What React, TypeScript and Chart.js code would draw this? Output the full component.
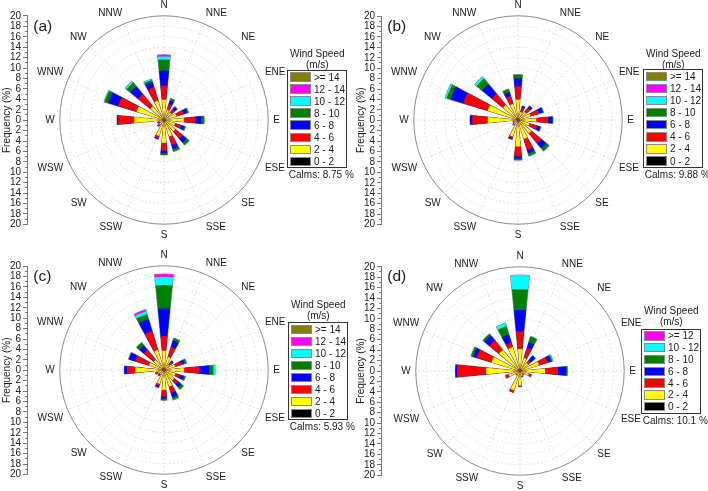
import React, { useEffect, useRef } from 'react';
import { Chart, registerables } from 'chart.js';

Chart.register(...registerables);

const FONT = "'Liberation Sans', Arial, Helvetica, sans-serif";

// 16 compass directions, clockwise from North
const DIRECTIONS = ['N', 'NNE', 'NE', 'ENE', 'E', 'ESE', 'SE', 'SSE', 'S', 'SSW', 'SW', 'WSW', 'W', 'WNW', 'NW', 'NNW'];

const SPEED_BINS_8 = ['0 - 2', '2 - 4', '4 - 6', '6 - 8', '8 - 10', '10 - 12', '12 - 14', '>= 14'];
const SPEED_BINS_7 = ['0 - 2', '2 - 4', '4 - 6', '6 - 8', '8 - 10', '10 - 12', '>= 12'];
const BIN_COLORS_8 = ['#000000', '#ffff00', '#ff0000', '#0000ff', '#008000', '#00ffff', '#ff00ff', '#808000'];
const BIN_COLORS_7 = ['#000000', '#ffff00', '#ff0000', '#0000ff', '#008000', '#00ffff', '#ff00ff'];

const RADIAL_MAX = 20;
const RADIAL_STEP = 2;

// ---- Panel (a): frequency (%) per speed class, N..NNW ----
const A_0_2 = [0.5, 0.4, 0.4, 0.4, 0.5, 0.4, 0.4, 0.4, 0.5, 0.4, 0.3, 0.3, 0.5, 0.5, 0.5, 0.4];
const A_2_4 = [3.4, 1.6, 1.4, 2.1, 3.3, 1.8, 2.4, 2.9, 3.9, 2.8, 0.9, 0.6, 5.2, 5.0, 2.9, 3.5];
const A_4_6 = [2.7, 1.2, 0.8, 1.4, 2.2, 1.2, 1.8, 1.7, 1.5, 0.5, 0.4, 0.3, 3.1, 3.7, 3.0, 2.7];
const A_6_8 = [2.9, 0.7, 0.6, 0.7, 1.2, 0.7, 1.0, 0.8, 0.5, 0.15, 0, 0.1, 0.2, 2.0, 2.0, 1.0];
const A_8_10 = [2.1, 0.4, 0.1, 0.3, 0.5, 0.2, 0.6, 0.5, 0.3, 0, 0, 0, 0, 0.7, 0.9, 0.4];
const A_10_12 = [0.6, 0, 0, 0, 0, 0, 0, 0, 0, 0, 0, 0, 0, 0.1, 0.3, 0.2];
const A_12_14 = [0.3, 0, 0, 0, 0, 0, 0, 0, 0, 0, 0, 0, 0, 0, 0, 0];
const A_14 = [0, 0, 0, 0, 0, 0, 0, 0, 0, 0, 0, 0, 0, 0, 0, 0];

// ---- Panel (b) ----
const B_0_2 = [0.5, 0.4, 0.4, 0.4, 0.5, 0.4, 0.4, 0.4, 0.5, 0.4, 0.3, 0.3, 0.5, 0.5, 0.5, 0.4];
const B_2_4 = [3.4, 1.2, 1.6, 2.1, 3.0, 1.9, 2.9, 3.4, 4.6, 2.9, 0.7, 0.4, 5.3, 5.6, 3.2, 2.8];
const B_4_6 = [2.6, 0.9, 1.0, 1.7, 2.3, 1.5, 2.5, 2.2, 1.9, 0.4, 0.3, 0.3, 3.0, 4.9, 2.8, 1.6];
const B_6_8 = [1.5, 0.3, 0.5, 0.8, 0.8, 0.7, 1.2, 0.7, 0.4, 0.2, 0, 0, 0.4, 2.5, 2.4, 0.8];
const B_8_10 = [0.7, 0, 0, 0.1, 0.1, 0.1, 0.7, 0.5, 0.3, 0, 0, 0, 0, 0.8, 1.4, 0.6];
const B_10_12 = [0, 0, 0, 0, 0, 0, 0, 0, 0, 0, 0, 0, 0, 0.3, 0.4, 0];
const B_12_14 = [0, 0, 0, 0, 0, 0, 0, 0, 0, 0, 0, 0, 0, 0, 0, 0];
const B_14 = [0, 0, 0, 0, 0, 0, 0, 0, 0, 0, 0, 0, 0, 0, 0, 0];

// ---- Panel (c) ----
const C_0_2 = [0.5, 0.4, 0.4, 0.4, 0.5, 0.4, 0.4, 0.4, 0.5, 0.4, 0.3, 0.3, 0.5, 0.5, 0.5, 0.5];
const C_2_4 = [3.2, 2.2, 0.9, 1.8, 3.3, 1.9, 2.1, 2.9, 3.3, 2.4, 0.7, 0.9, 5.0, 2.5, 2.0, 3.5];
const C_4_6 = [2.8, 2.0, 0.7, 1.3, 3.0, 1.0, 1.0, 1.3, 1.3, 0.4, 0.5, 0.5, 1.6, 2.8, 2.5, 3.8];
const C_6_8 = [5.3, 1.3, 0.3, 0.6, 1.9, 0.7, 0.7, 0.9, 0.4, 0.3, 0, 0, 0.5, 1.2, 1.1, 2.4];
const C_8_10 = [4.5, 0.5, 0, 0.4, 0.8, 0.3, 0.6, 0.4, 0.3, 0, 0, 0, 0, 0.1, 0.7, 1.0];
const C_10_12 = [1.6, 0, 0, 0, 0.3, 0, 0, 0.1, 0, 0.1, 0, 0, 0, 0, 0, 0.6];
const C_12_14 = [0.5, 0, 0, 0, 0, 0, 0, 0, 0, 0, 0, 0, 0, 0, 0, 0.3];
const C_14 = [0, 0, 0, 0, 0, 0, 0, 0, 0, 0, 0, 0, 0, 0, 0, 0];

// ---- Panel (d) ----
const D_0_2 = [0.5, 0.4, 0.4, 0.4, 0.5, 0.3, 0.3, 0.3, 0.4, 0.4, 0.3, 0.3, 0.5, 0.5, 0.5, 0.5];
const D_2_4 = [3.7, 2.2, 1.6, 3.4, 4.3, 1.5, 0.4, 0.7, 2.4, 3.5, 0.5, 2.0, 6.0, 5.2, 4.7, 4.3];
const D_4_6 = [3.4, 2.0, 0.6, 1.8, 2.5, 0.5, 0.3, 0.2, 0.2, 0.4, 0.2, 0.6, 5.6, 3.0, 2.4, 0.9];
const D_6_8 = [4.1, 1.1, 1.2, 0.6, 1.6, 0, 0, 0, 0, 0, 0, 0, 0.3, 0.7, 1.2, 1.6];
const D_8_10 = [4.0, 1.2, 0, 0.3, 0.2, 0, 0, 0, 0, 0, 0, 0, 0, 0.4, 0.4, 1.7];
const D_10_12 = [2.7, 0, 0, 0.1, 0, 0, 0, 0, 0, 0, 0, 0, 0, 0, 0, 0.6];
const D_12 = [0, 0, 0, 0, 0, 0, 0, 0, 0, 0, 0, 0, 0, 0, 0, 0];

type PanelSpec = {
  tag: string;
  calms: string;
  ox: number;
  oy: number;
  cx: number;
  cy: number;
  boxL: number;
  boxT: number;
  rowH: number;
  titleY: number;
  tagY: number;
  bins: string[];
  colors: string[];
  series: number[][];
};

const PANELS: PanelSpec[] = [
  {
    tag: '(a)', calms: 'Calms: 8.75 %', ox: 0, oy: 0, cx: 164.3, cy: 120.2,
    boxL: 287.3, boxT: 70, rowH: 12.05, titleY: 53.5, tagY: 26,
    bins: SPEED_BINS_8, colors: BIN_COLORS_8,
    series: [A_0_2, A_2_4, A_4_6, A_6_8, A_8_10, A_10_12, A_12_14, A_14],
  },
  {
    tag: '(b)', calms: 'Calms: 9.88 %', ox: 354, oy: 0, cx: 164.3, cy: 120.3,
    boxL: 289.3, boxT: 69.3, rowH: 12.1, titleY: 53.3, tagY: 26,
    bins: SPEED_BINS_8, colors: BIN_COLORS_8,
    series: [B_0_2, B_2_4, B_4_6, B_6_8, B_8_10, B_10_12, B_12_14, B_14],
  },
  {
    tag: '(c)', calms: 'Calms: 5.93 %', ox: 0, oy: 245, cx: 164.3, cy: 125.3,
    boxL: 288.3, boxT: 77.3, rowH: 12.0, titleY: 59.7, tagY: 31,
    bins: SPEED_BINS_8, colors: BIN_COLORS_8,
    series: [C_0_2, C_2_4, C_4_6, C_6_8, C_8_10, C_10_12, C_12_14, C_14],
  },
  {
    tag: '(d)', calms: 'Calms: 10.1 %', ox: 354, oy: 245, cx: 165.7, cy: 126,
    boxL: 287.3, boxT: 84, rowH: 11.8, titleY: 65.7, tagY: 31,
    bins: SPEED_BINS_7, colors: BIN_COLORS_7,
    series: [D_0_2, D_2_4, D_4_6, D_6_8, D_8_10, D_10_12, D_12],
  },
];

const ROSE_SIZE = 254;
const PANEL_H = 246;
const AXIS_W = 36;

function WindRose({ spec }: { spec: PanelSpec }) {
  const roseRef = useRef<HTMLCanvasElement>(null);
  const axisRef = useRef<HTMLCanvasElement>(null);

  useEffect(() => {
    const roseCanvas = roseRef.current;
    const axisCanvas = axisRef.current;
    if (!roseCanvas || !axisCanvas) return;
    const n = DIRECTIONS.length;
    const slotAngle = 360 / (2 * n); // each bar and each gap: 11.25 deg
    // slots: N, gap, NNE, gap, ..., NNW, gap
    const slotDir: number[] = [];
    for (let k = 0; k < n; k++) {
      slotDir.push(k);
      slotDir.push(-1);
    }
    // point labels every half slot, so compass names sit on bar centres
    const pointLabels = Array.from({ length: 4 * n }, (_, i) => (i % 4 === 1 ? DIRECTIONS[(i - 1) / 4] : ''));

    const lastBin = spec.series.length - 1;
    let cum = new Array(n).fill(0);
    const datasets = spec.series.map((vals, j) => {
      cum = cum.map((c, k) => c + vals[k]);
      const snap = cum.slice();
      return {
        label: spec.bins[j],
        data: slotDir.map((k) => (k < 0 ? 0 : snap[k])),
        backgroundColor: spec.colors[j],
        borderColor: '#8c8c8c',
        // the outline is drawn once, by the full (cumulative) bar underneath
        borderWidth: (c: any) => (j === lastBin && c.raw > 0 ? 1.2 : 0),
      };
    });

    const rose = new Chart(roseCanvas, {
      type: 'polarArea',
      data: { labels: slotDir.map((k) => (k < 0 ? '' : DIRECTIONS[k])), datasets: datasets as any },
      options: {
        responsive: false,
        animation: false,
        events: [],
        layout: { padding: 0 },
        plugins: { legend: { display: false }, tooltip: { enabled: false } },
        scales: {
          r: {
            type: 'radialLinear',
            min: 0,
            max: RADIAL_MAX,
            startAngle: -slotAngle / 2,
            labels: pointLabels,
            ticks: { display: false, stepSize: RADIAL_STEP },
            grid: {
              circular: true,
              color: (c: any) => (c.tick && c.tick.value === RADIAL_MAX ? '#8a8a8a' : '#d4d4d4'),
              lineWidth: (c: any) => (c.tick && c.tick.value === RADIAL_MAX ? 1 : 0.7),
            },
            border: { dash: (c: any) => (c.tick && c.tick.value === RADIAL_MAX ? [] : [2, 2]) },
            angleLines: {
              display: true,
              color: (c: any) => (c.index % 4 === 1 ? '#d4d4d4' : 'rgba(0,0,0,0)'),
              lineWidth: 0.7,
              borderDash: [2, 2],
            },
            pointLabels: { display: true, padding: 5, color: '#1a1a1a', font: { family: FONT, size: 10 } },
          } as any,
        },
      } as any,
    });

    const r: any = rose.scales.r;
    const R: number = r.drawingArea;
    roseCanvas.style.left = `${spec.cx - r.xCenter}px`;
    roseCanvas.style.top = `${spec.cy - r.yCenter}px`;

    const axis = new Chart(axisCanvas, {
      type: 'line',
      data: { labels: [], datasets: [] },
      options: {
        responsive: false,
        animation: false,
        events: [],
        plugins: { legend: { display: false }, tooltip: { enabled: false } },
        layout: { padding: { top: spec.cy - R, bottom: PANEL_H - (spec.cy + R), left: 0, right: 4 } },
        scales: {
          yMajor: {
            axis: 'y',
            type: 'linear',
            position: 'left',
            weight: 1,
            min: -RADIAL_MAX,
            max: RADIAL_MAX,
            ticks: {
              stepSize: RADIAL_STEP,
              autoSkip: false,
              padding: 2,
              color: '#1a1a1a',
              font: { family: FONT, size: 10 },
              callback: (v: any) => String(Math.abs(Number(v))),
            },
            grid: { display: true, drawOnChartArea: false, drawTicks: true, tickLength: 2, color: '#777' },
            border: { display: false },
            title: {
              display: true,
              text: 'Frequency (%)',
              color: '#1a1a1a',
              font: { family: FONT, size: 10 },
              padding: { top: 1, bottom: 0 },
            },
            afterFit: (s: any) => {
              s.width = 25;
            },
          },
          yMinor: {
            axis: 'y',
            type: 'linear',
            position: 'left',
            weight: 0,
            min: -RADIAL_MAX,
            max: RADIAL_MAX,
            ticks: { display: false, stepSize: 1, autoSkip: false },
            grid: { display: true, drawOnChartArea: false, drawTicks: true, tickLength: 2, color: '#777' },
            border: { display: true, color: '#777', width: 1 },
            afterFit: (s: any) => {
              s.width = 2;
            },
          },
        },
      } as any,
    });

    return () => {
      rose.destroy();
      axis.destroy();
    };
  }, [spec]);

  const rows = spec.bins.length;
  const boxH = rows * spec.rowH + 2;
  const boxBottom = spec.boxT + boxH;
  const text: React.CSSProperties = { fontFamily: FONT, fontSize: 10, color: '#1a1a1a', whiteSpace: 'nowrap' };

  return (
    <div style={{ position: 'absolute', left: spec.ox, top: spec.oy, width: 354, height: PANEL_H }}>
      <canvas ref={axisRef} width={AXIS_W} height={PANEL_H} style={{ position: 'absolute', left: 0, top: 0 }} />
      <canvas ref={roseRef} width={ROSE_SIZE} height={ROSE_SIZE} style={{ position: 'absolute', left: 0, top: 0 }} />
      <div
        style={{
          position: 'absolute',
          left: 33.3,
          top: spec.tagY - 9,
          fontFamily: FONT,
          fontSize: 15.5,
          lineHeight: '18px',
          color: '#1a1a1a',
        }}
      >
        {spec.tag}
      </div>
      <div
        style={{
          ...text,
          position: 'absolute',
          left: spec.boxL - 15,
          width: 90,
          top: spec.titleY - 5.5,
          lineHeight: '11px',
          textAlign: 'center',
        }}
      >
        Wind Speed
        <br />
        (m/s)
      </div>
      <div
        style={{
          position: 'absolute',
          left: spec.boxL,
          top: spec.boxT,
          width: 60,
          height: boxH,
          border: '1px solid #333',
          boxSizing: 'border-box',
          background: '#fff',
        }}
      >
        {spec.bins
          .map((b, i) => ({ b, c: spec.colors[i] }))
          .reverse()
          .map((it, i) => (
            <div
              key={it.b}
              style={{
                position: 'absolute',
                left: 2,
                top: i * spec.rowH,
                height: spec.rowH,
                display: 'flex',
                alignItems: 'center',
              }}
            >
              <div
                style={{
                  width: 21,
                  height: 9.5,
                  background: it.c,
                  border: '1px solid #8a8a8a',
                  boxSizing: 'border-box',
                }}
              />
              <span style={{ ...text, marginLeft: 2.7, lineHeight: '11px' }}>{it.b}</span>
            </div>
          ))}
      </div>
      <div style={{ ...text, position: 'absolute', left: spec.boxL + 1.5, top: boxBottom + 0.9, lineHeight: '11px' }}>
        {spec.calms}
      </div>
    </div>
  );
}

export default function App() {
  return (
    <div
      style={{
        position: 'absolute',
        left: 0,
        top: 0,
        width: 708,
        height: 491,
        background: '#fff',
        overflow: 'hidden',
      }}
    >
      {PANELS.map((p) => (
        <WindRose key={p.tag} spec={p} />
      ))}
    </div>
  );
}
